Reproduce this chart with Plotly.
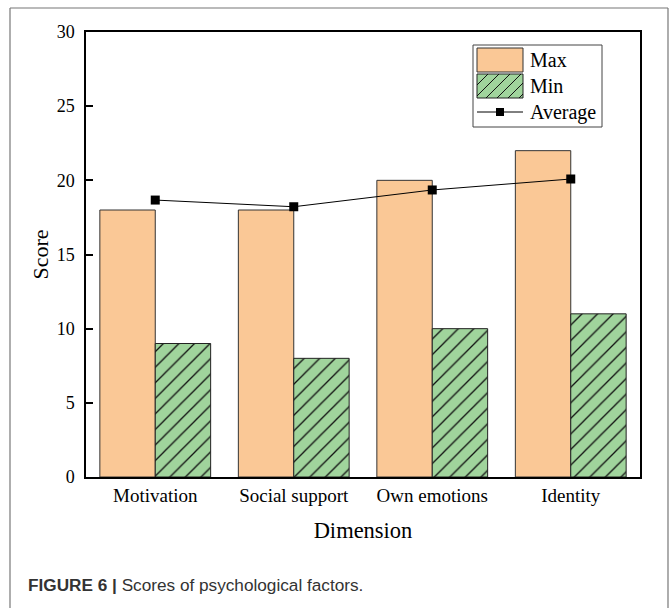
import plotly.graph_objects as go

categories = ["Motivation", "Social support", "Own emotions", "Identity"]
max_vals = [18, 18, 20, 22]
min_vals = [9, 8, 10, 11]
avg_vals = [18.67, 18.22, 19.35, 20.09]
series_names = ["Max", "Min", "Average"]
y_ticks = [0, 5, 10, 15, 20, 25, 30]

W, H = 670, 608
L, R, T, B = 86, 30, 32, 131
PW, PH = W - L - R, H - T - B

def px(x):
    return (x - L) / PW

def py(y):
    return (H - B - y) / PH

ORANGE = "#FAC896"
GREEN = "#A0D49C"
SERIF = "Liberation Serif"

fig = go.Figure()
fig.add_trace(go.Bar(
    x=categories, y=max_vals, name=series_names[0],
    marker=dict(color=ORANGE, line=dict(color="#333333", width=1)),
))
fig.add_trace(go.Bar(
    x=categories, y=min_vals, name=series_names[1],
    marker=dict(color=GREEN, line=dict(color="#222222", width=1),
                pattern=dict(shape="/", size=11, solidity=0.12,
                             fgcolor="#111111", bgcolor=GREEN, fillmode="replace")),
))
fig.add_trace(go.Scatter(
    x=categories, y=avg_vals, name=series_names[2], mode="lines+markers",
    line=dict(color="black", width=1),
    marker=dict(symbol="square", size=9, color="black"),
))

shapes = []
# outer frame (open at bottom)
frame = dict(type="line", xref="paper", yref="paper", line=dict(color="#777777", width=1.2))
shapes.append({**frame, "x0": px(10), "x1": px(10), "y0": py(8), "y1": py(612)})
shapes.append({**frame, "x0": px(10), "x1": px(668), "y0": py(8), "y1": py(8)})
shapes.append({**frame, "x0": px(668), "x1": px(668), "y0": py(8), "y1": py(612)})

# manual legend
lx0, lx1, ly0, ly1 = 473, 602, 45, 127
shapes.append(dict(type="rect", xref="paper", yref="paper",
                   x0=px(lx0), x1=px(lx1), y0=py(ly0), y1=py(ly1),
                   line=dict(color="#444444", width=1), fillcolor="white", layer="above"))
sx0, sx1 = 477, 523
shapes.append(dict(type="rect", xref="paper", yref="paper",
                   x0=px(sx0), x1=px(sx1), y0=py(48), y1=py(72),
                   line=dict(color="#333333", width=1), fillcolor=ORANGE, layer="above"))
mtop, mbot = 74, 98
shapes.append(dict(type="rect", xref="paper", yref="paper",
                   x0=px(sx0), x1=px(sx1), y0=py(mtop), y1=py(mbot),
                   line=dict(color="#222222", width=1), fillcolor=GREEN, layer="above"))
# hatch lines inside Min swatch (45 degree)
hgt = mbot - mtop
step = 11
start = sx0 - hgt
k = 0
while start + k * step < sx1:
    bx = start + k * step
    tx = bx + hgt
    by, ty = mbot, mtop
    if bx < sx0:
        by = mbot - (sx0 - bx)
        bx = sx0
    if tx > sx1:
        ty = mtop + (tx - sx1)
        tx = sx1
    if tx > bx:
        shapes.append(dict(type="line", xref="paper", yref="paper",
                           x0=px(bx), y0=py(by), x1=px(tx), y1=py(ty),
                           line=dict(color="#111111", width=1), layer="above"))
    k += 1
# average legend line + marker
shapes.append(dict(type="line", xref="paper", yref="paper",
                   x0=px(sx0), x1=px(sx1), y0=py(112), y1=py(112),
                   line=dict(color="black", width=1), layer="above"))
shapes.append(dict(type="rect", xref="paper", yref="paper",
                   x0=px(496), x1=px(504), y0=py(108), y1=py(116),
                   line=dict(color="black", width=0), fillcolor="black", layer="above"))

annotations = []
for name, yc in zip(series_names, [60, 86, 112]):
    annotations.append(dict(text=name, xref="paper", yref="paper", x=px(528), y=py(yc),
                            xanchor="left", yanchor="middle", showarrow=False,
                            font=dict(family=SERIF, size=20, color="black")))
annotations.append(dict(text="<b>FIGURE 6 |</b> Scores of psychological factors.",
                        xref="paper", yref="paper", x=px(26), y=py(585),
                        xanchor="left", yanchor="middle", showarrow=False,
                        font=dict(family="Liberation Sans", size=17.2, color="#333333")))

fig.update_layout(
    width=W, height=H,
    margin=dict(l=L, r=R, t=T, b=B),
    paper_bgcolor="white", plot_bgcolor="white",
    barmode="group", bargap=0.2, bargroupgap=0,
    showlegend=False,
    font=dict(family=SERIF, size=18, color="black"),
    shapes=shapes, annotations=annotations,
    xaxis=dict(
        showline=True, linecolor="black", linewidth=1.5, mirror=True,
        ticks="", showgrid=False, zeroline=False,
        tickfont=dict(family=SERIF, size=19),
        title=dict(text="Dimension", font=dict(family=SERIF, size=22.5), standoff=18),
    ),
    yaxis=dict(
        range=[0, 30], tickvals=y_ticks,
        showline=True, linecolor="black", linewidth=1.5, mirror=True,
        ticks="inside", ticklen=7, tickwidth=1.5, tickcolor="black",
        showgrid=False, zeroline=False, ticklabelstandoff=6,
        tickfont=dict(family=SERIF, size=18),
        title=dict(text="Score", font=dict(family=SERIF, size=22), standoff=2),
    ),
)

fig.write_html("out.html", config={"displayModeBar": False},
               post_script="document.body.style.margin='0';")
